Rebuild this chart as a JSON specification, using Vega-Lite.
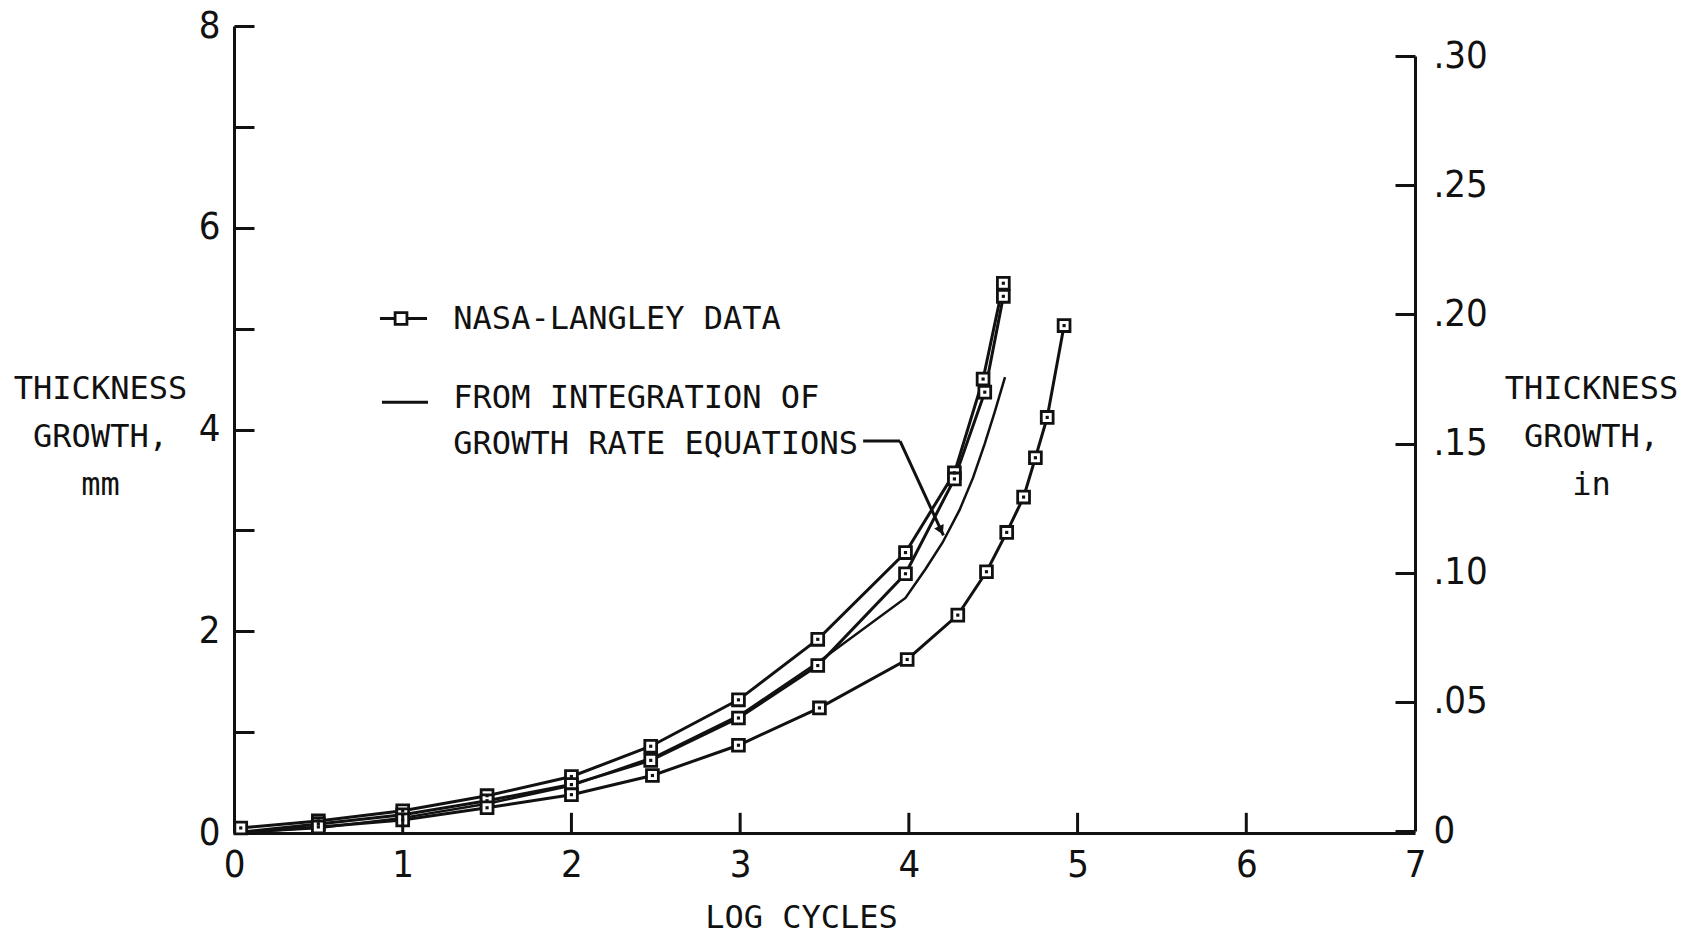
{
  "$schema": "https://vega.github.io/schema/vega-lite/v6.json",
  "width": 1181,
  "height": 807,
  "autosize": {"type": "none"},
  "padding": {"left": 234, "top": 26, "right": 280, "bottom": 103},
  "background": "white",
  "config": {
    "view": {"stroke": null, "fill": null},
    "axis": {
      "grid": false,
      "domainColor": "#111",
      "domainWidth": 3,
      "tickColor": "#111",
      "tickWidth": 3,
      "tickSize": -20,
      "labelFont": "Liberation Sans Narrow, DejaVu Sans Condensed, DejaVu Sans Mono",
      "labelFontSize": 38,
      "labelColor": "#111",
      "labelFlush": false,
      "labelOverlap": false,
      "titleFont": "DejaVu Sans Mono",
      "titleFontSize": 32,
      "titleFontWeight": "normal",
      "titleColor": "#111"
    }
  },
  "datasets": {
    "nasa": [
      {"series": "A", "x": 0.04, "y": 0.05, "m": 1},
      {"series": "A", "x": 0.5, "y": 0.12, "m": 1},
      {"series": "A", "x": 1.0, "y": 0.22, "m": 1},
      {"series": "A", "x": 1.5, "y": 0.37, "m": 1},
      {"series": "A", "x": 2.0, "y": 0.56, "m": 1},
      {"series": "A", "x": 2.47, "y": 0.86, "m": 1},
      {"series": "A", "x": 2.99, "y": 1.32, "m": 1},
      {"series": "A", "x": 3.46, "y": 1.92, "m": 1},
      {"series": "A", "x": 3.98, "y": 2.78, "m": 1},
      {"series": "A", "x": 4.27, "y": 3.57, "m": 1},
      {"series": "A", "x": 4.44, "y": 4.5, "m": 1},
      {"series": "A", "x": 4.56, "y": 5.45, "m": 1},
      {"series": "B", "x": 0.0, "y": 0.0, "m": 0},
      {"series": "B", "x": 0.5, "y": 0.09, "m": 1},
      {"series": "B", "x": 1.0, "y": 0.18, "m": 1},
      {"series": "B", "x": 1.5, "y": 0.32, "m": 1},
      {"series": "B", "x": 2.0, "y": 0.48, "m": 1},
      {"series": "B", "x": 2.47, "y": 0.72, "m": 1},
      {"series": "B", "x": 2.99, "y": 1.14, "m": 1},
      {"series": "B", "x": 3.46, "y": 1.66, "m": 1},
      {"series": "B", "x": 3.98, "y": 2.57, "m": 1},
      {"series": "B", "x": 4.27, "y": 3.51, "m": 1},
      {"series": "B", "x": 4.45, "y": 4.37, "m": 1},
      {"series": "B", "x": 4.56, "y": 5.32, "m": 1},
      {"series": "C", "x": 0.0, "y": 0.0, "m": 0},
      {"series": "C", "x": 0.5, "y": 0.06, "m": 1},
      {"series": "C", "x": 1.0, "y": 0.13, "m": 1},
      {"series": "C", "x": 1.5, "y": 0.25, "m": 1},
      {"series": "C", "x": 2.0, "y": 0.38, "m": 1},
      {"series": "C", "x": 2.48, "y": 0.57, "m": 1},
      {"series": "C", "x": 2.99, "y": 0.87, "m": 1},
      {"series": "C", "x": 3.47, "y": 1.24, "m": 1},
      {"series": "C", "x": 3.99, "y": 1.72, "m": 1},
      {"series": "C", "x": 4.29, "y": 2.16, "m": 1},
      {"series": "C", "x": 4.46, "y": 2.59, "m": 1},
      {"series": "C", "x": 4.58, "y": 2.98, "m": 1},
      {"series": "C", "x": 4.68, "y": 3.33, "m": 1},
      {"series": "C", "x": 4.75, "y": 3.72, "m": 1},
      {"series": "C", "x": 4.82, "y": 4.12, "m": 1},
      {"series": "C", "x": 4.92, "y": 5.03, "m": 1}
    ],
    "integration": [
      {"x": 0.0, "y": 0.0},
      {"x": 0.5, "y": 0.05},
      {"x": 1.0, "y": 0.15},
      {"x": 1.5, "y": 0.29},
      {"x": 2.0, "y": 0.47},
      {"x": 2.5, "y": 0.76},
      {"x": 3.0, "y": 1.17},
      {"x": 3.46, "y": 1.69},
      {"x": 3.98, "y": 2.33},
      {"x": 4.1, "y": 2.62},
      {"x": 4.2, "y": 2.88},
      {"x": 4.3, "y": 3.2},
      {"x": 4.38, "y": 3.52},
      {"x": 4.45, "y": 3.86},
      {"x": 4.51, "y": 4.18},
      {"x": 4.57, "y": 4.52}
    ],
    "segs": [
      {"x": 1, "y": 0, "x2": 1, "y2": 0.2},
      {"x": 2, "y": 0, "x2": 2, "y2": 0.2},
      {"x": 3, "y": 0, "x2": 3, "y2": 0.2},
      {"x": 4, "y": 0, "x2": 4, "y2": 0.2},
      {"x": 5, "y": 0, "x2": 5, "y2": 0.2},
      {"x": 6, "y": 0, "x2": 6, "y2": 0.2},
      {"x": 0.865, "y": 5.1, "x2": 1.144, "y2": 5.1},
      {"x": 0.877, "y": 4.27, "x2": 1.15, "y2": 4.27},
      {"x": 3.729, "y": 3.885, "x2": 3.948, "y2": 3.885},
      {"x": 3.948, "y": 3.885, "x2": 4.205, "y2": 2.95}
    ],
    "sym": [{"x": 0.99, "y": 5.1}],
    "arrow": [{"x": 4.19, "y": 3.0}],
    "texts": [
      {"x": 1.3, "y": 5.1, "text": "NASA-LANGLEY DATA"},
      {"x": 1.3, "y": 4.31, "text": "FROM INTEGRATION OF"},
      {"x": 1.3, "y": 3.855, "text": "GROWTH RATE EQUATIONS"}
    ]
  },
  "layer": [
    {
      "encoding": {
        "x": {
          "field": "x",
          "type": "quantitative",
          "scale": {"domain": [0, 7], "nice": false, "zero": false},
          "axis": {
            "orient": "bottom",
            "values": [0, 1, 2, 3, 4, 5, 6, 7],
            "ticks": false,
            "labelPadding": 13,
            "title": "LOG CYCLES",
            "titleX": 567,
            "titleY": 84,
            "titleAlign": "center",
            "titleBaseline": "middle"
          }
        },
        "y": {
          "field": "y",
          "type": "quantitative",
          "scale": {"domain": [0, 8], "nice": false},
          "axis": {
            "orient": "left",
            "values": [0, 1, 2, 3, 4, 5, 6, 7, 8],
            "labelExpr": "datum.value % 2 == 0 ? datum.label : ''",
            "labelPadding": 34,
            "title": ["THICKNESS", "GROWTH,", "mm"],
            "titleAngle": 0,
            "titleX": -134,
            "titleY": 362,
            "titleAlign": "center",
            "titleBaseline": "middle",
            "titleLineHeight": 48
          }
        }
      },
      "layer": [
        {
          "data": {"name": "nasa"},
          "mark": {"type": "line", "color": "#111", "strokeWidth": 3},
          "encoding": {"detail": {"field": "series"}}
        },
        {
          "data": {"name": "integration"},
          "mark": {"type": "line", "color": "#111", "strokeWidth": 2.5}
        },
        {
          "data": {"name": "nasa"},
          "transform": [{"filter": "datum.m == 1"}],
          "mark": {"type": "point", "shape": "square", "filled": true, "fill": "white", "stroke": "#111", "strokeWidth": 2.8, "size": 140, "opacity": 1}
        },
        {
          "data": {"name": "nasa"},
          "transform": [{"filter": "datum.m == 1"}],
          "mark": {"type": "point", "shape": "square", "filled": true, "color": "#111", "size": 10, "opacity": 1}
        },
        {
          "data": {"name": "segs"},
          "mark": {"type": "rule", "color": "#111", "strokeWidth": 3},
          "encoding": {"x2": {"field": "x2"}, "y2": {"field": "y2"}}
        },
        {
          "data": {"name": "sym"},
          "mark": {"type": "point", "shape": "square", "filled": true, "fill": "white", "stroke": "#111", "strokeWidth": 2.8, "size": 140, "opacity": 1}
        },
        {
          "data": {"name": "arrow"},
          "mark": {"type": "point", "shape": "triangle-down", "filled": true, "color": "#111", "size": 110, "angle": -26, "opacity": 1}
        },
        {
          "data": {"name": "texts"},
          "mark": {"type": "text", "align": "left", "baseline": "middle", "font": "DejaVu Sans Mono", "fontSize": 32, "color": "#111"},
          "encoding": {"text": {"field": "text"}}
        }
      ]
    },
    {
      "data": {"values": [{"yin": 0}, {"yin": 0.3}]},
      "mark": {"type": "point", "opacity": 0},
      "encoding": {
        "y": {
          "field": "yin",
          "type": "quantitative",
          "scale": {"domain": [0, 0.3], "range": [805, 30], "nice": false, "zero": false},
          "axis": {
            "orient": "right",
            "values": [0, 0.05, 0.1, 0.15, 0.2, 0.25, 0.3],
            "labelExpr": "datum.value == 0 ? '0' : replace(format(datum.value, '.2f'), '0.', '.')",
            "labelPadding": 38,
            "title": ["THICKNESS", "GROWTH,", "in"],
            "titleAngle": 0,
            "titleX": 176,
            "titleY": 362,
            "titleAlign": "center",
            "titleBaseline": "middle",
            "titleLineHeight": 48
          }
        }
      }
    }
  ],
  "resolve": {"scale": {"y": "independent"}, "axis": {"y": "independent"}}
}
